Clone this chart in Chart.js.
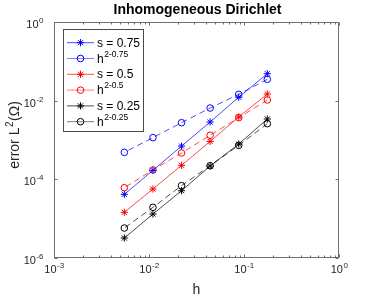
<!DOCTYPE html>
<html>
<head>
<meta charset="utf-8">
<script src="https://cdn.jsdelivr.net/npm/chart.js@4/dist/chart.umd.min.js"></script>
<style>
html,body{margin:0;padding:0;background:#fff;}
#wrap{width:374px;height:300px;}
</style>
</head>
<body>
<div id="wrap"><canvas id="c" width="374" height="300"></canvas></div>
<script>
// ---- data ----
const hValues = [0.176, 0.088, 0.044, 0.022, 0.011, 0.0055];
const s075 = [0.0485, 0.0122, 0.00286, 7.0e-4, 1.69e-4, 4.15e-5];
const h125 = [0.0349, 0.0145, 0.0065, 0.00275, 0.00115, 4.86e-4];
const s050 = [0.01476, 0.00385, 9.2e-4, 2.27e-4, 5.67e-5, 1.45e-5];
const h150 = [0.0104, 0.00369, 0.00132, 4.67e-4, 1.73e-4, 6.12e-5];
const s025 = [0.00342, 7.9e-4, 2.18e-4, 5.14e-5, 1.31e-5, 3.22e-6];
const h175 = [0.0026, 7.3e-4, 2.22e-4, 6.9e-5, 1.94e-5, 5.78e-6];
const seriesNames = [['s = 0.75', null], ['h', '2-0.75'], ['s = 0.5', null], ['h', '2-0.5'], ['s = 0.25', null], ['h', '2-0.25']];
const xTickExps = [-3, -2, -1, 0];
const yTickExps = [-6, -4, -2, 0];
const titleText = 'Inhomogeneous Dirichlet';
const xTitle = 'h';
const yTitleParts = ['error L', '2', '(\u03A9)'];

const FONT = '"Liberation Sans", Arial, Helvetica, sans-serif';
const colors = ['0,0,255', '0,0,255', '255,0,0', '255,0,0', '0,0,0', '0,0,0'];
const seriesData = [s075, h125, s050, h150, s025, h175];

function pts(arr) { return hValues.map((h, i) => ({x: h, y: arr[i]})); }

const datasets = seriesData.map((arr, i) => {
  const isStar = i % 2 === 0;
  return {
    label: seriesNames[i][0] + (seriesNames[i][1] ? '^' + seriesNames[i][1] : ''),
    data: pts(arr),
    showLine: true,
    borderColor: 'rgba(' + colors[i] + ',0.7)',
    borderWidth: 1,
    borderDash: isStar ? [] : [6, 4],
    pointStyle: isStar ? 'star' : 'circle',
    pointRadius: isStar ? 3.6 : 3.3,
    pointBorderColor: 'rgb(' + colors[i] + ')',
    pointBackgroundColor: 'rgba(0,0,0,0)',
    pointBorderWidth: 1,
    pointHoverRadius: 3.5,
    tension: 0
  };
});

function drawPow(ctx, base, exp, x, y, align, baseSize, expSize, raise, weight) {
  weight = weight || '';
  ctx.font = weight + ' ' + baseSize + 'px ' + FONT;
  const w1 = ctx.measureText(base).width;
  ctx.font = weight + ' ' + expSize + 'px ' + FONT;
  const w2 = exp ? ctx.measureText(exp).width : 0;
  let sx = x;
  if (align === 'center') sx = x - (w1 + w2) / 2;
  else if (align === 'right') sx = x - (w1 + w2);
  ctx.textAlign = 'left';
  ctx.textBaseline = 'alphabetic';
  ctx.font = weight + ' ' + baseSize + 'px ' + FONT;
  ctx.fillText(base, sx, y);
  if (exp) {
    ctx.font = weight + ' ' + expSize + 'px ' + FONT;
    ctx.fillText(exp, sx + w1 + 0.5, y - raise);
  }
}

const decor = {
  id: 'decor',
  afterDraw(chart) {
    const ctx = chart.ctx;
    const a = chart.chartArea;
    const xs = chart.scales.x, ys = chart.scales.y;
    const L = Math.round(a.left) + 0.5, R = Math.round(a.right) - 0.5;
    const T = Math.round(a.top) + 0.5, B = Math.round(a.bottom) - 0.5;
    ctx.save();
    const axisCol = '#6e6e6e';
    ctx.strokeStyle = axisCol;
    ctx.lineWidth = 1;
    // box
    ctx.strokeRect(L, T, R - L, B - T);
    // x ticks
    ctx.beginPath();
    for (let e = -3; e <= 0; e++) {
      for (let m = 1; m <= 9; m++) {
        if (e === 0 && m > 1) break;
        const v = m * Math.pow(10, e);
        const px = Math.round(xs.getPixelForValue(v)) + 0.5;
        const len = m === 1 ? 3 : 2;
        ctx.moveTo(px, B); ctx.lineTo(px, B - len);
        ctx.moveTo(px, T); ctx.lineTo(px, T + len);
      }
    }
    // y ticks
    yTickExps.forEach(e => {
      const py = Math.round(ys.getPixelForValue(Math.pow(10, e))) + 0.5;
      ctx.moveTo(L, py); ctx.lineTo(L + 3, py);
      ctx.moveTo(R, py); ctx.lineTo(R - 3, py);
    });
    ctx.stroke();

    // tick labels
    ctx.fillStyle = '#262626';
    xTickExps.forEach(e => {
      const px = xs.getPixelForValue(Math.pow(10, e));
      drawPow(ctx, '10', String(e).replace('-', '-'), px, 273, 'center', 11, 8, 5);
    });
    yTickExps.forEach(e => {
      const py = ys.getPixelForValue(Math.pow(10, e));
      drawPow(ctx, '10', String(e), 43, py + 6, 'right', 11, 8, 5);
    });

    // axis titles
    ctx.font = '14px ' + FONT;
    ctx.textAlign = 'center';
    ctx.textBaseline = 'alphabetic';
    ctx.fillText(xTitle, (a.left + a.right) / 2, 294);

    ctx.save();
    ctx.translate(18.5, 135);
    ctx.rotate(-Math.PI / 2);
    ctx.font = '14px ' + FONT;
    const w1 = ctx.measureText(yTitleParts[0]).width;
    const w3 = ctx.measureText(yTitleParts[2]).width;
    ctx.font = '10px ' + FONT;
    const w2 = ctx.measureText(yTitleParts[1]).width;
    const tot = w1 + w2 + w3 + 1;
    let sx = -tot / 2;
    ctx.textAlign = 'left';
    ctx.font = '14px ' + FONT;
    ctx.fillText(yTitleParts[0], sx, 0);
    ctx.font = '10px ' + FONT;
    ctx.fillText(yTitleParts[1], sx + w1 + 0.5, -6);
    ctx.font = '14px ' + FONT;
    ctx.fillText(yTitleParts[2], sx + w1 + w2 + 1, 0);
    ctx.restore();

    // title
    ctx.fillStyle = '#000';
    ctx.font = 'bold 14px ' + FONT;
    ctx.textAlign = 'center';
    ctx.fillText(titleText, (a.left + a.right) / 2 + 1, 14);

    // legend
    const lx = 63.5, ly = 29.5, lw = 80, lh = 102;
    ctx.fillStyle = '#fff';
    ctx.fillRect(lx, ly, lw, lh);
    ctx.strokeStyle = '#4a4a4a';
    ctx.lineWidth = 1;
    ctx.strokeRect(lx, ly, lw, lh);
    datasets.forEach((ds, i) => {
      const cy = 42.7 + i * 15.8;
      const isStar = i % 2 === 0;
      ctx.strokeStyle = 'rgba(' + colors[i] + ',' + (isStar ? 0.7 : 0.5) + ')';
      ctx.lineWidth = 1;
      ctx.beginPath();
      ctx.moveTo(67, cy); ctx.lineTo(94, cy);
      ctx.stroke();
      ctx.strokeStyle = 'rgb(' + colors[i] + ')';
      ctx.beginPath();
      const mx = 80.5;
      if (isStar) {
        const r = 3.6, d = r * Math.SQRT1_2;
        ctx.moveTo(mx - r, cy); ctx.lineTo(mx + r, cy);
        ctx.moveTo(mx, cy - r); ctx.lineTo(mx, cy + r);
        ctx.moveTo(mx - d, cy - d); ctx.lineTo(mx + d, cy + d);
        ctx.moveTo(mx - d, cy + d); ctx.lineTo(mx + d, cy - d);
      } else {
        ctx.arc(mx, cy, 3.3, 0, Math.PI * 2);
      }
      ctx.stroke();
      ctx.fillStyle = '#000';
      const nm = seriesNames[i];
      drawPow(ctx, nm[0], nm[1], 97, cy + 4, 'left', 12, 8.5, 6);
    });
    ctx.restore();
  }
};

new Chart(document.getElementById('c'), {
  type: 'scatter',
  data: {datasets},
  options: {
    responsive: false,
    animation: false,
    events: [],
    layout: {padding: {left: 54, right: 35, top: 22, bottom: 42}},
    plugins: {legend: {display: false}, title: {display: false}, tooltip: {enabled: false}},
    scales: {
      x: {type: 'logarithmic', min: 0.001, max: 1, display: false},
      y: {type: 'logarithmic', min: 1e-6, max: 1, display: false}
    }
  },
  plugins: [decor]
});
</script>
</body>
</html>
